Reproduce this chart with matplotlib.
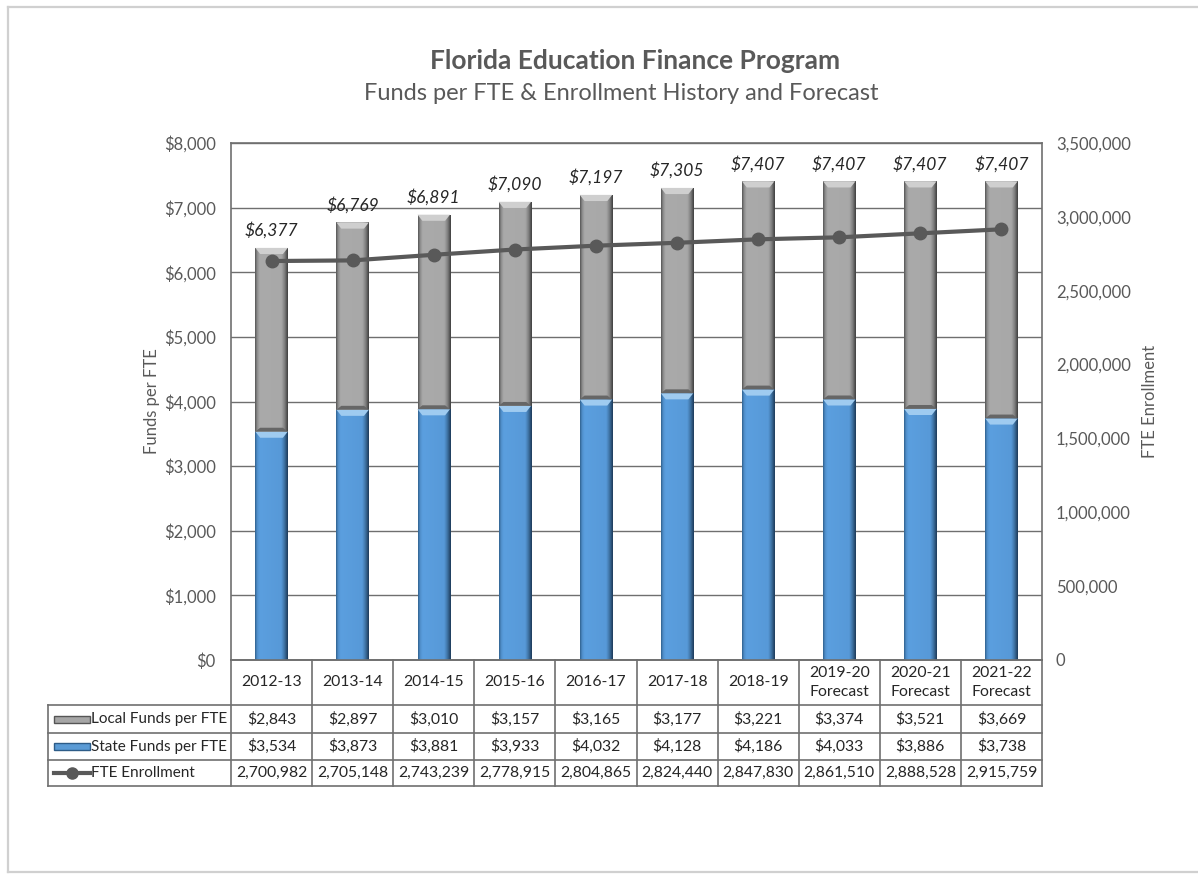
import matplotlib
matplotlib.use("Agg")
import matplotlib.pyplot as plt
import numpy as np
from matplotlib.colors import LinearSegmentedColormap
from matplotlib.patches import Rectangle, Polygon
from matplotlib.lines import Line2D
from matplotlib.ticker import FuncFormatter, MultipleLocator

plt.rcParams['font.family'] = ['Lato', 'DejaVu Sans']

categories = ["2012-13", "2013-14", "2014-15", "2015-16", "2016-17", "2017-18",
              "2018-19", "2019-20\nForecast", "2020-21\nForecast", "2021-22\nForecast"]
local_funds = [2843, 2897, 3010, 3157, 3165, 3177, 3221, 3374, 3521, 3669]
state_funds = [3534, 3873, 3881, 3933, 4032, 4128, 4186, 4033, 3886, 3738]
total_funds = [6377, 6769, 6891, 7090, 7197, 7305, 7407, 7407, 7407, 7407]
fte_enrollment = [2700982, 2705148, 2743239, 2778915, 2804865, 2824440,
                  2847830, 2861510, 2888528, 2915759]
series_names = ["Local Funds per FTE", "State Funds per FTE", "FTE Enrollment"]

TXT = "#595959"
W, H = 1198, 874
fig = plt.figure(figsize=(W / 100, H / 100), dpi=100)

# outer frame (top, left, bottom only)
fx0, fy0, fy1 = 8 / W, 1 - 7 / H, 1 - 872 / H
for xs, ys in [([fx0, 1], [fy0, fy0]), ([fx0, fx0], [fy0, fy1]), ([fx0, 1], [fy1, fy1])]:
    fig.add_artist(Line2D(xs, ys, transform=fig.transFigure, color="#d0d0d0", lw=1.6))

ax = fig.add_axes([231 / W, 1 - 660 / H, 811 / W, 517 / H])
x = np.arange(len(categories))
bw = 0.40

grey_cmap = LinearSegmentedColormap.from_list(
    "g", [(0, "#505050"), (0.06, "#8a8a8a"), (0.14, "#aaaaaa"), (0.8, "#a8a8a8"),
          (0.9, "#808080"), (1, "#3c3c3c")])
blue_cmap = LinearSegmentedColormap.from_list(
    "b", [(0, "#2d5c88"), (0.06, "#4f8ec9"), (0.14, "#5b9fdf"), (0.8, "#5799d8"),
          (0.9, "#3d70a0"), (1, "#1c3856")])

state_bars = ax.bar(x, state_funds, width=bw, color="#5b9bd5", zorder=2)
local_bars = ax.bar(x, local_funds, width=bw, bottom=state_funds, color="#a6a6a6", zorder=2)

grad = np.linspace(0, 1, 256).reshape(1, -1)
for bars, cmap, top_col, bot_col in [(state_bars, blue_cmap, "#9fcbf0", None),
                                     (local_bars, grey_cmap, "#cfcfcf", "#666666")]:
    for p in bars:
        x0, y0, w, h = p.get_x(), p.get_y(), p.get_width(), p.get_height()
        im = ax.imshow(grad, cmap=cmap, aspect="auto", extent=(x0, x0 + w, y0, y0 + h),
                       zorder=2.1, interpolation="bicubic")
        im.set_clip_path(p)
        d, bh = 0.06, 95
        ax.add_patch(Polygon([(x0, y0 + h), (x0 + w, y0 + h), (x0 + w - d, y0 + h - bh),
                              (x0 + d, y0 + h - bh)], closed=True, facecolor=top_col,
                             edgecolor="none", zorder=2.2))
        if bot_col:
            ax.add_patch(Polygon([(x0, y0), (x0 + w, y0), (x0 + w - d, y0 + 60),
                                  (x0 + d, y0 + 60)], closed=True, facecolor=bot_col,
                                 edgecolor="none", zorder=2.2))

for xi, t in zip(x, total_funds):
    ax.annotate(f"${t:,.0f}", (xi, t), xytext=(0, 12.5), textcoords="offset points",
                ha="center", va="center", fontsize=12.5, style="italic", color="#262626",
                zorder=5)

ax.set_xlim(-0.5, len(categories) - 0.5)
ax.set_ylim(0, 8000)
ax.yaxis.set_major_locator(MultipleLocator(1000))
ax.yaxis.set_major_formatter(FuncFormatter(lambda v, p: f"${v:,.0f}"))
ax.grid(axis="y", color="#6f6f6f", lw=1.0, zorder=0)
ax.set_axisbelow(True)
ax.set_xticks([])
ax.tick_params(axis="y", length=0, pad=11, labelsize=12, labelcolor=TXT)
for s in ["left", "right", "top", "bottom"]:
    ax.spines[s].set_color("#6f6f6f")
    ax.spines[s].set_linewidth(1.2)
ax.set_ylabel("Funds per FTE", fontsize=12, color=TXT, labelpad=3)

ax2 = ax.twinx()
ax2.plot(x, fte_enrollment, color="#595959", lw=3, marker="o", markersize=9, zorder=4)
ax2.set_ylim(0, 3500000)
ax2.yaxis.set_major_locator(MultipleLocator(500000))
ax2.yaxis.set_major_formatter(FuncFormatter(lambda v, p: f"{v:,.0f}"))
ax2.tick_params(axis="y", length=0, pad=10, labelsize=12, labelcolor=TXT)
for s in ["left", "right", "top", "bottom"]:
    ax2.spines[s].set_visible(False)
ax2.set_ylabel("FTE Enrollment", fontsize=12, color=TXT, labelpad=8)

# titles
fig.text(635 / W, 1 - 61 / H, "Florida Education Finance Program",
         ha="center", va="center", fontsize=19, fontweight="bold", color=TXT)
fig.text(621 / W, 1 - 93 / H, "Funds per FTE & Enrollment History and Forecast",
         ha="center", va="center", fontsize=17, color=TXT)

# data table
T = ax.transAxes
LC = "#6f6f6f"
n = len(categories)
y_hdr = -45 / 517
row_b = [y_hdr, -73 / 517, -100 / 517, -126 / 517]
x_leg = -183 / 811

def hline(x0, x1, y):
    ax.add_line(Line2D([x0, x1], [y, y], transform=T, color=LC, lw=1.2, clip_on=False))

def vline(xx, y0, y1):
    ax.add_line(Line2D([xx, xx], [y0, y1], transform=T, color=LC, lw=1.2, clip_on=False))

for i in range(n + 1):
    vline(i / n, row_b[-1], 0)
vline(x_leg, row_b[-1], row_b[0])
hline(0, 1, 0)
for yb in row_b:
    hline(x_leg, 1, yb)

for i, c in enumerate(categories):
    ax.text((i + 0.5) / n, y_hdr / 2, c, transform=T, ha="center", va="center",
            fontsize=11.3, color="#262626", linespacing=1.4)

rows = [[f"${v:,.0f}" for v in local_funds],
        [f"${v:,.0f}" for v in state_funds],
        [f"{v:,.0f}" for v in fte_enrollment]]
for r, vals in enumerate(rows):
    yc = 0.5 * (row_b[r] + row_b[r + 1])
    for i, v in enumerate(vals):
        ax.text((i + 0.5) / n, yc, v, transform=T, ha="center", va="center",
                fontsize=11.3, color="#262626")
    ax.text(x_leg + 43 / 811, yc, series_names[r], transform=T, ha="left", va="center",
            fontsize=11, color="#262626")
    ix0, ix1 = x_leg + 6 / 811, x_leg + 42 / 811
    if r < 2:
        fc = ["#a6a6a6", "#5b9bd5"][r]
        ec = ["#555555", "#2d5c88"][r]
        ax.add_patch(Rectangle((ix0, yc - 3.5 / 517), ix1 - ix0, 7 / 517, transform=T,
                               facecolor=fc, edgecolor=ec, lw=1, clip_on=False))
    else:
        ax.add_line(Line2D([ix0, ix1], [yc, yc], transform=T, color="#595959", lw=3,
                           clip_on=False))
        ax.add_line(Line2D([(ix0 + ix1) / 2], [yc], transform=T, color="#595959",
                           marker="o", markersize=8, clip_on=False))

fig.savefig("out.png", dpi=100)
